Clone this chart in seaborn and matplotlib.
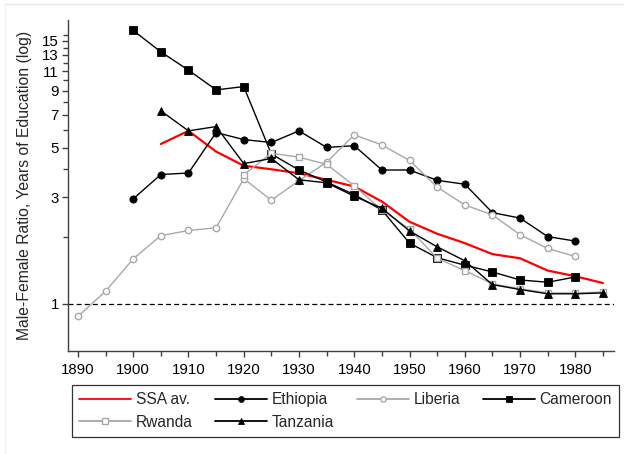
import numpy as np
import pandas as pd
import seaborn as sns
import matplotlib
matplotlib.use("Agg")
import matplotlib.pyplot as plt
from matplotlib.ticker import FixedLocator, FixedFormatter, NullFormatter
from matplotlib.lines import Line2D

# Male-female ratio of years of education, by birth cohort
ssa_years = list(range(1905, 1990, 5))
ssa_avg = [5.19, 5.94, 4.80, 4.15, 4.00, 3.84, 3.59, 3.35, 2.87, 2.33, 2.06,
           1.87, 1.67, 1.60, 1.41, 1.33, 1.24]

ethiopia_years = list(range(1900, 1985, 5))
ethiopia = [2.95, 3.79, 3.85, 5.84, 5.43, 5.27, 5.94, 5.01, 5.10, 3.97, 3.97,
            3.57, 3.43, 2.56, 2.42, 2.00, 1.91]

liberia_years = list(range(1890, 1985, 5))
liberia = [0.88, 1.14, 1.59, 2.02, 2.13, 2.19, 3.63, 2.91, 3.56, 4.30, 5.70,
           5.14, 4.38, 3.33, 2.77, 2.50, 2.04, 1.77, 1.63]

cameroon_years = list(range(1900, 1985, 5))
cameroon = [16.7, 13.4, 11.1, 9.06, 9.37, 4.68, 3.97, 3.51, 3.08, 2.63, 1.87,
            1.61, 1.49, 1.39, 1.28, 1.25, 1.32]

rwanda_years = list(range(1920, 1990, 5))
rwanda = [3.78, 4.72, 4.53, 4.21, 3.37, 2.63, 2.16, 1.60, 1.41, 1.23, 1.17,
          1.12, 1.12, 1.13]

tanzania_years = list(range(1905, 1990, 5))
tanzania = [7.30, 5.94, 6.21, 4.24, 4.47, 3.59, 3.48, 3.03, 2.68, 2.12, 1.80,
            1.56, 1.22, 1.16, 1.11, 1.11, 1.12]

y_ticks = [1, 3, 5, 7, 9, 11, 13, 15]
y_minor = [2, 4, 6, 8, 10, 12, 14, 16]
x_ticks = list(range(1890, 1990, 10))
x_minor = list(range(1895, 1990, 10))

sns.set_style("ticks")
plt.rcParams["font.family"] = ["Liberation Sans", "DejaVu Sans"]

W, H = 624, 454
fig = plt.figure(figsize=(W / 100, H / 100), dpi=100)
fig.patch.set_facecolor("white")
ax = fig.add_axes([68 / W, 1 - 351 / H, (614 - 68) / W, (351 - 20) / H])

GRAY = "#a8a8a8"
series = [
    ("SSA av.", ssa_years, ssa_avg,
     dict(color="#ff0000", lw=1.6, marker=None)),
    ("Ethiopia", ethiopia_years, ethiopia,
     dict(color="black", lw=1.0, marker="o", ms=5.2, mfc="black", mec="black")),
    ("Liberia", liberia_years, liberia,
     dict(color=GRAY, lw=1.0, marker="o", ms=4.6, mfc="white", mec=GRAY, mew=1.0)),
    ("Cameroon", cameroon_years, cameroon,
     dict(color="black", lw=1.0, marker="s", ms=5.6, mfc="black", mec="black")),
    ("Rwanda", rwanda_years, rwanda,
     dict(color=GRAY, lw=1.0, marker="s", ms=4.6, mfc="white", mec=GRAY, mew=1.0)),
    ("Tanzania", tanzania_years, tanzania,
     dict(color="black", lw=1.0, marker="^", ms=6.0, mfc="black", mec="black")),
]

for i, (name, yrs, vals, st) in enumerate(series):
    df = pd.DataFrame({"year": yrs, "ratio": vals})
    kw = dict(color=st["color"], linewidth=st["lw"], zorder=3 + i)
    if st["marker"]:
        kw.update(marker=st["marker"], markersize=st["ms"],
                  markerfacecolor=st["mfc"], markeredgecolor=st["mec"],
                  markeredgewidth=st.get("mew", 0.6))
    sns.lineplot(data=df, x="year", y="ratio", ax=ax, legend=False, **kw)

# parity reference line
ax.axhline(1, color="black", lw=0.9, ls=(0, (4, 2.5)), zorder=2)

ax.set_yscale("log")
ax.set_xlim(1888.2, 1987.0)
ax.set_ylim(0.616, 18.6)
ax.yaxis.set_major_locator(FixedLocator(y_ticks))
ax.yaxis.set_major_formatter(FixedFormatter([str(t) for t in y_ticks]))
ax.yaxis.set_minor_locator(FixedLocator(y_minor))
ax.yaxis.set_minor_formatter(NullFormatter())
ax.xaxis.set_major_locator(FixedLocator(x_ticks))
ax.xaxis.set_major_formatter(FixedFormatter([str(t) for t in x_ticks]))
ax.xaxis.set_minor_locator(FixedLocator(x_minor))

for s in ["top", "right"]:
    ax.spines[s].set_visible(False)
for s in ["left", "bottom"]:
    ax.spines[s].set_color("#404040")
    ax.spines[s].set_linewidth(1.0)
ax.tick_params(axis="both", which="major", length=4.5, width=1.0,
               color="#404040", labelsize=10.8, labelcolor="black", pad=2)
ax.tick_params(axis="both", which="minor", length=3.5, width=1.0,
               color="#404040")
ax.tick_params(axis="x", which="major", pad=4)
ax.set_xlabel("")
ax.set_ylabel("Male-Female Ratio, Years of Education (log)", fontsize=11.3)
ax.yaxis.set_label_coords(-(68 - 32) / 546, 0.5)
ax.grid(False)

# legend: row 1 SSA, Ethiopia, Liberia, Cameroon; row 2 Rwanda, Tanzania
handles = {}
for name, yrs, vals, st in series:
    if st["marker"]:
        handles[name] = Line2D([], [], color=st["color"], lw=1.3,
                               marker=st["marker"], ms=st["ms"] * 0.8,
                               mfc=st["mfc"], mec=st["mec"],
                               mew=st.get("mew", 0.6))
    else:
        handles[name] = Line2D([], [], color=st["color"], lw=1.3)
order = ["SSA av.", "Rwanda", "Ethiopia", "Tanzania", "Liberia", "Cameroon"]
leg = fig.legend([handles[n] for n in order], order,
                 loc="upper left", bbox_to_anchor=(72 / W, 1 - 385 / H),
                 ncol=4, fontsize=11.2, frameon=True, fancybox=False,
                 handlelength=3.35, handletextpad=0.3, columnspacing=1.45,
                 labelspacing=0.5, borderpad=0.45, borderaxespad=0)
leg.get_frame().set_edgecolor("black")
leg.get_frame().set_linewidth(0.9)

# faint outer region border
fig.add_artist(Line2D([5 / W, 1], [1 - 4 / H, 1 - 4 / H], color="#dfe8ee",
                      lw=1.0, transform=fig.transFigure))
fig.add_artist(Line2D([5 / W, 5 / W], [0, 1 - 4 / H], color="#eef3f6",
                      lw=1.0, transform=fig.transFigure))

fig.savefig("out.png", dpi=100)
